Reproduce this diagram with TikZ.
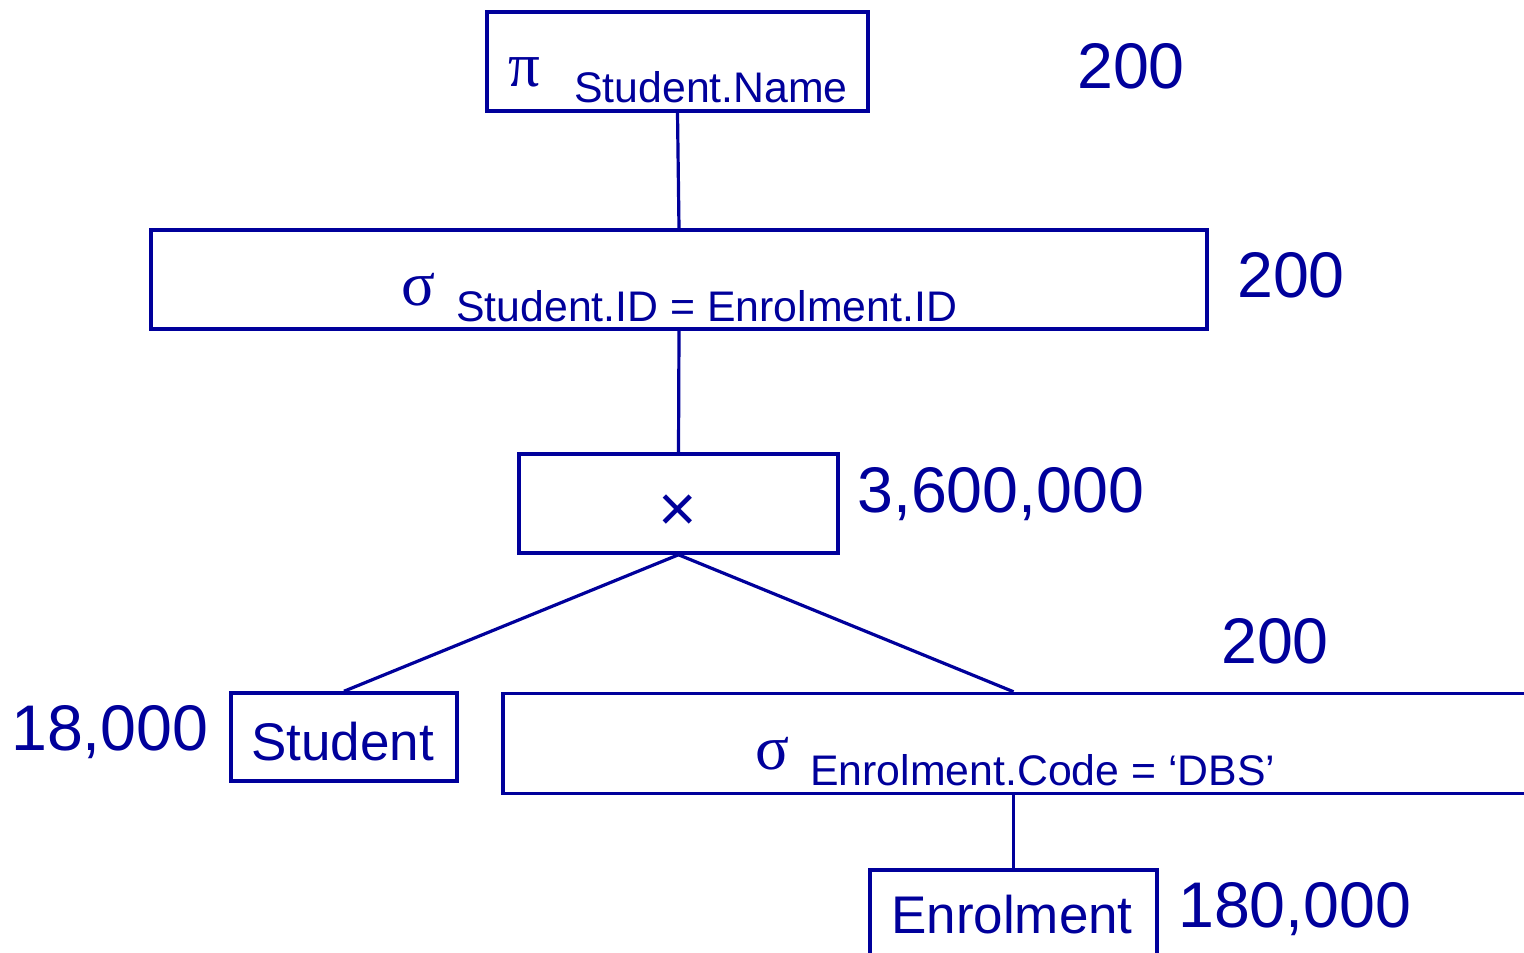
\documentclass[tikz,border=0pt]{standalone}
\usepackage{fontspec}
\setmainfont{Liberation Sans}
\newfontfamily\greekfont{Liberation Serif}
\definecolor{ink}{RGB}{0,0,155}
\begin{document}
\begin{tikzpicture}[x=1pt,y=-1pt,
  box/.style={draw=ink,line width=3.5pt,rectangle,inner sep=0pt},
  conn/.style={draw=ink,line width=3.2pt},
  txt/.style={text=ink,inner sep=0pt,anchor=base west},
  num/.style={txt,font=\fontsize{64.5}{70}\selectfont},
  lab/.style={txt,font=\fontsize{53}{60}\selectfont},
  sub/.style={txt,font=\fontsize{42.8}{50}\selectfont},
  grk/.style={txt,font=\greekfont\fontsize{63}{68}\selectfont}]
\useasboundingbox (0,0) rectangle (1524,953);
\clip (0,0) rectangle (1524,953);
% boxes
\node[box,minimum width=381pt,minimum height=99pt] (pi) at (677.5,61.5) {};
\node[box,minimum width=1056pt,minimum height=99pt] (sel1) at (679,279.5) {};
\node[box,minimum width=319pt,minimum height=99pt] (prod) at (678.5,503.5) {};
\node[box,minimum width=226pt,minimum height=88pt] (stu) at (344,737) {};
\node[box,minimum width=1080pt,minimum height=100pt] (sel2) at (1043,743.5) {};
\node[box,minimum width=287pt,minimum height=150pt] (enr) at (1013.5,945) {};
% texts
\node[grk] (tpi) at (508,86) {π};
\node[sub] (tpis) at (574,102) {Student.Name};
\node[num] (n1) at (1077,88) {200};
\node[grk] (ts1) at (401,305) {σ};
\node[sub] (ts1s) at (456,321) {Student.ID = Enrolment.ID};
\node[num] (n2) at (1237,297) {200};
\node[text=ink,inner sep=0pt,anchor=base,font=\fontsize{66}{70}\selectfont] (tx) at (678,531) {×};
\node[num] (n3) at (857,512) {3,600,000};
\node[num] (n4) at (11,750) {18,000};
\node[lab] (tstu) at (251,760) {Student};
\node[num] (n5) at (1221,663) {200};
\node[grk] (ts2) at (755,769) {σ};
\node[sub] (ts2s) at (810,785) {Enrolment.Code = ‘DBS’};
\node[lab] (tenr) at (891,933) {Enrolment};
\node[num] (n6) at (1178,927) {180,000};
% connectors
\draw[conn] (pi.south) -- (sel1.north);
\draw[conn] (sel1.south) -- (prod.north);
\draw[conn] (prod.south) -- (stu.north);
\draw[conn] (prod.south) -- (enr.north |- sel2.north);
\draw[conn] (enr.north |- sel2.south) -- (enr.north);
\end{tikzpicture}
\end{document}
